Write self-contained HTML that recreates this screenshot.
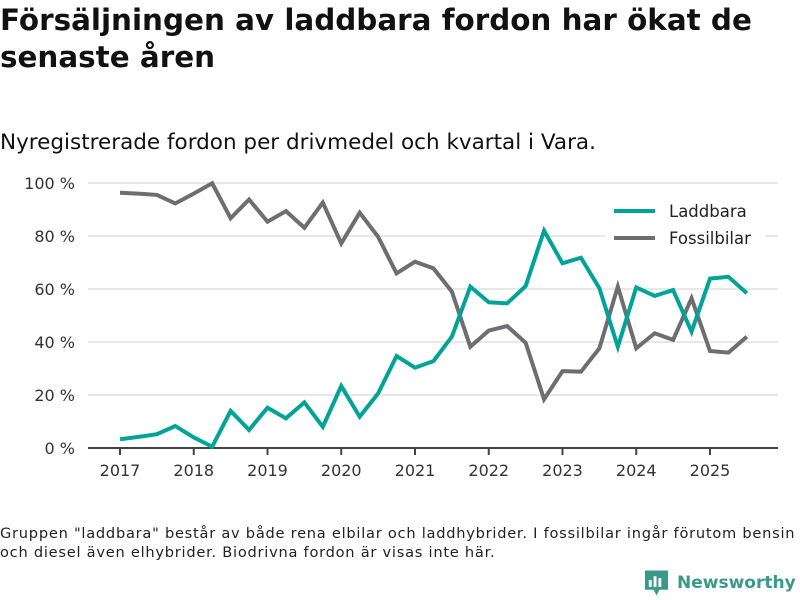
<!DOCTYPE html>
<html><head><meta charset="utf-8"><style>
body{margin:0;width:800px;height:600px;background:#fff;font-family:"DejaVu Sans","Liberation Sans",sans-serif;color:#111;overflow:hidden;position:relative}
h1{position:absolute;left:0;top:2px;margin:0;font-size:29.4px;line-height:37px;font-weight:bold;width:800px}
.sub{position:absolute;left:0;top:130px;font-size:21.5px}
.note{position:absolute;left:0;top:524px;font-size:14.6px;line-height:19px;color:#222;letter-spacing:0.75px;white-space:nowrap}
.logo{position:absolute;left:644px;top:569px;font-size:17px;font-weight:bold;color:#3a9a8a;display:flex;align-items:center;gap:8px}
</style></head><body>
<h1>Försäljningen av laddbara fordon har ökat de senaste åren</h1>
<div class="sub">Nyregistrerade fordon per drivmedel och kvartal i Vara.</div>
<svg id="chart" width="800" height="600" style="position:absolute;left:0;top:0"></svg>
<div class="note">Gruppen "laddbara" består av både rena elbilar och laddhybrider. I fossilbilar ingår förutom bensin<br>och diesel även elhybrider. Biodrivna fordon är visas inte här.</div>
<div class="logo"><svg width="25" height="28" viewBox="0 0 26 28"><path d="M1 1h24v20h-9l-3 6-3-6H1z" fill="#3a9a8a"/><rect x="5" y="11" width="3" height="7" fill="#fff"/><rect x="10" y="7" width="3" height="11" fill="#fff"/><rect x="15" y="9" width="3" height="9" fill="#fff"/></svg>Newsworthy</div>
<script>
const quarters=[2017,2017.25,2017.5,2017.75,2018,2018.25,2018.5,2018.75,2019,2019.25,2019.5,2019.75,2020,2020.25,2020.5,2020.75,2021,2021.25,2021.5,2021.75,2022,2022.25,2022.5,2022.75,2023,2023.25,2023.5,2023.75,2024,2024.25,2024.5,2024.75,2025,2025.25,2025.5];
const laddbara=[3.3,4.2,5.2,8.3,4,0.5,14,6.8,15.2,11.2,17.2,8,23.4,11.8,20.6,34.7,30.3,32.8,42,60.9,55,54.6,61.1,82,69.7,71.8,60.3,38.2,60.6,57.4,59.6,43.9,63.9,64.6,58.4];
const fossil=[96.3,96,95.5,92.3,96,99.9,86.7,93.8,85.4,89.4,83.1,92.6,77.2,88.8,79.7,65.9,70.3,67.8,59,38.2,44.3,46,39.7,18.4,29,28.8,37.6,60.9,37.6,43.3,40.8,56.5,36.6,36,42];
const yTicks=[0,20,40,60,80,100];
const xTicks=[2017,2018,2019,2020,2021,2022,2023,2024,2025];
const NS="http://www.w3.org/2000/svg",svg=document.getElementById('chart');
const x=v=>120+(v-2017)*73.75, y=v=>448-v*2.65;
function mk(t,a){const e=document.createElementNS(NS,t);for(const k in a)e.setAttribute(k,a[k]);svg.appendChild(e);return e;}
yTicks.forEach(t=>{
 if(t>0){const g=mk('line',{x1:88,x2:778,y1:y(t),y2:y(t),stroke:'#e0e0e0','stroke-width':1.5});
 
 }
 const l=mk('text',{x:75,y:y(t)+6,'text-anchor':'end','font-size':16,fill:'#333','font-family':'DejaVu Sans,sans-serif'});l.textContent=t+' %';
 
 
});
const ax=mk('line',{x1:88,x2:778,y1:448,y2:448,stroke:'#444','stroke-width':2});


xTicks.forEach(t=>{
 const k=mk('line',{x1:x(t),x2:x(t),y1:448,y2:455,stroke:'#444','stroke-width':2});
 
 
 const l=mk('text',{x:x(t),y:476,'text-anchor':'middle','font-size':16,fill:'#333','font-family':'DejaVu Sans,sans-serif'});l.textContent=t;
 
 
});
function line(vals,color,name){
 const p=mk('polyline',{points:quarters.map((q,i)=>x(q)+','+y(vals[i])).join(' '),fill:'none',stroke:color,'stroke-width':4,'stroke-linejoin':'miter'});
 
 
}
line(fossil,'#6e6d72','fossilbilar-line');
line(laddbara,'#00a398','laddbara-line');
[['Laddbara','#00a398',211],['Fossilbilar','#6e6d72',238]].forEach(([n,c,yy])=>{
 const bg=mk('rect',{x:605,y:yy-13,width:160,height:26,fill:'#fff'});
 
 
 const s=mk('line',{x1:614,x2:655,y1:yy,y2:yy,stroke:c,'stroke-width':4});
 
 
 const t=mk('text',{x:669,y:yy+6,'font-size':16.5,fill:'#222','font-family':'DejaVu Sans,sans-serif'});t.textContent=n;
 
 
});
</script>
</body></html>
